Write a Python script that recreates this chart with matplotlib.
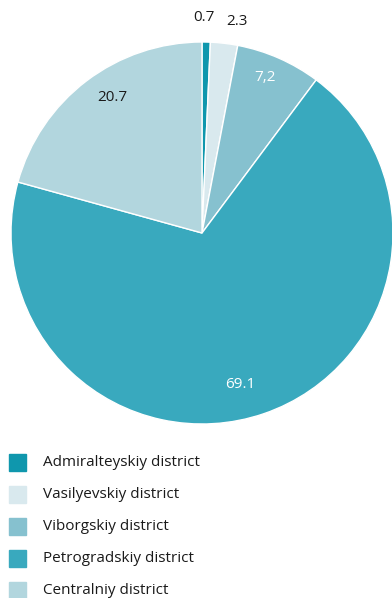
import matplotlib.pyplot as plt
import numpy as np

districts = ['Admiralteyskiy district', 'Vasilyevskiy district', 'Viborgskiy district',
             'Petrogradskiy district', 'Centralniy district']
shares = [0.7, 2.3, 7.2, 69.1, 20.7]
value_labels = ['0.7', '2.3', '7,2', '69.1', '20.7']
colors = ['#0f97ad', '#d9e9ee', '#86c1cf', '#39a9be', '#b2d6de']
label_colors = ['#1a1a1a', '#1a1a1a', 'white', 'white', '#1a1a1a']
label_radius = [1.13, 1.12, 0.88, 0.82, 0.85]
label_shift = [0.8, -2.7, 1.7, -4.8, -3.9]  # degrees

plt.rcParams['font.family'] = ['Open Sans', 'DejaVu Sans']

fig = plt.figure(figsize=(3.92, 5.98), dpi=100)
ax = fig.add_axes([11 / 392, 1 - 424 / 598, 382 / 392, 382 / 598])
wedges, _ = ax.pie(shares, colors=colors, startangle=90, counterclock=False,
                   radius=1, wedgeprops=dict(edgecolor='white', linewidth=1.0))
ax.set_xlim(-1, 1)
ax.set_ylim(-1, 1)
ax.set_aspect('equal')
ax.axis('off')

# value labels at each wedge's mid-angle
for w, txt, r, dth, c in zip(wedges, value_labels, label_radius, label_shift, label_colors):
    mid = np.deg2rad((w.theta1 + w.theta2) / 2 + dth)
    ax.text(r * np.cos(mid), r * np.sin(mid), txt, ha='center', va='center',
            fontsize=11, color=c, clip_on=False)

# legend with square swatches
for i, (name, col) in enumerate(zip(districts, colors)):
    yc = 1 - (462 + 32 * i) / 598
    fig.patches.append(plt.Rectangle((9 / 392, yc - 8.5 / 598), 17 / 392, 17 / 598,
                                     transform=fig.transFigure, color=col))
    fig.text(43 / 392, yc, name, ha='left', va='center', fontsize=11, color='#1a1a1a')

fig.savefig('out.png', dpi=100)
